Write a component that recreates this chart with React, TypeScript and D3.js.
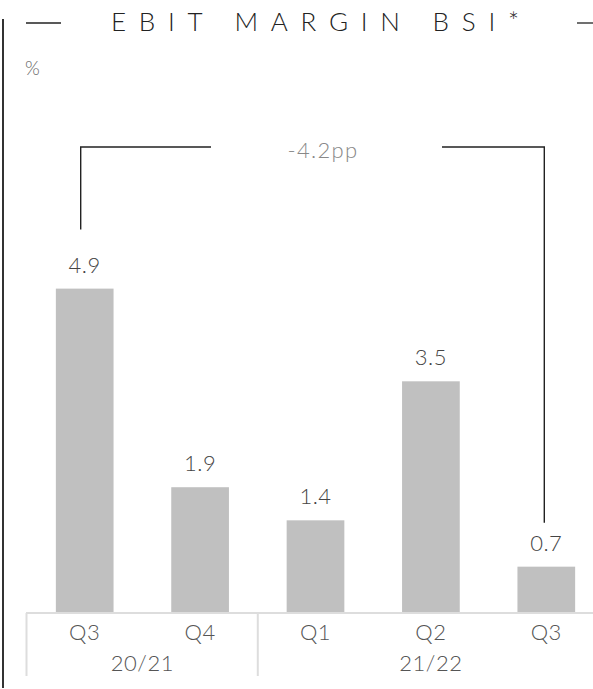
import React from "react";
import * as d3 from "d3";

const quarters = ["Q3", "Q4", "Q1", "Q2", "Q3"];
const values = [4.9, 1.9, 1.4, 3.5, 0.7];
const valueLabels = ["4.9", "1.9", "1.4", "3.5", "0.7"];
const groupLabels = ["20/21", "21/22"];
const groupSpans = [2, 3];
const title = "EBIT MARGIN BSI*";
const unitLabel = "%";
const deltaLabel = "-4.2pp";

const W = 593;
const H = 689;
const FONT = "Lato, 'Open Sans', sans-serif";

export default function App() {
  const ids = quarters.map((_, i) => String(i));
  const x = d3.scaleBand<string>().domain(ids).range([27, 604]).paddingInner(0.5).paddingOuter(0.25);
  const y = d3.scaleLinear().domain([0, 5]).range([613, 282]);
  const step = x.step();
  const bw = x.bandwidth();
  const cx = (i: number) => (x(ids[i]) as number) + bw / 2;

  const bounds: number[] = [];
  let acc = 0;
  const groupCenters: number[] = [];
  groupSpans.forEach((s) => {
    const start = acc;
    acc += s;
    groupCenters.push((cx(start) + cx(acc - 1)) / 2);
    bounds.push(cx(acc - 1) + step / 2);
  });
  const sepXs = [cx(0) - step / 2 - 0.5, bounds[0]];

  const bracketY = 147;
  const lx = cx(0) - 4;
  const rx = cx(values.length - 1) - 2;
  const midX = 326;

  return (
    <svg width={W} height={H} style={{ position: "absolute", left: 0, top: 0, display: "block" }}>
      <rect x={0} y={0} width={W} height={H} fill="#fff" />
      <line x1={3} x2={3} y1={19} y2={688} stroke="#333" strokeWidth={2} />
      <line x1={26} x2={61} y1={23} y2={23} stroke="#222" strokeWidth={1.3} />
      <line x1={577} x2={593} y1={23} y2={23} stroke="#222" strokeWidth={1.3} />
      <text x={111} y={31} fontFamily={FONT} fontWeight={300} fontSize={26} fill="#222"
        textLength={408} lengthAdjust="spacing">{title}</text>
      <text x={25} y={75} fontFamily={FONT} fontWeight={300} fontSize={19} fill="#666">{unitLabel}</text>

      <path d={`M${lx},${y(values[0]) - 59}V${bracketY}H${midX - 115}`} fill="none" stroke="#222" strokeWidth={1.4} />
      <path d={`M${midX + 116},${bracketY}H${rx}V${y(values[values.length - 1]) - 44}`} fill="none" stroke="#222" strokeWidth={1.4} />
      <text x={midX - 3} y={158} textAnchor="middle" fontFamily={FONT} fontWeight={300} fontSize={22} letterSpacing={1.3} fill="#888">{deltaLabel}</text>

      {values.map((v, i) => (
        <g key={i}>
          <rect x={x(ids[i])} y={y(v)} width={bw} height={y(0) - y(v)} fill="#c0c0c0" />
          <text x={cx(i)} y={y(v) - 16} textAnchor="middle" fontFamily={FONT} fontWeight={300} fontSize={22} letterSpacing={0.5} fill="#444">{valueLabels[i]}</text>
        </g>
      ))}

      <line x1={26} x2={W} y1={y(0)} y2={y(0)} stroke="#ddd" strokeWidth={2} />
      {sepXs.map((sx, i) => (
        <line key={i} x1={sx} x2={sx} y1={y(0)} y2={676} stroke="#ddd" strokeWidth={2} />
      ))}
      {quarters.map((q, i) => (
        <text key={i} x={cx(i)} y={640} textAnchor="middle" fontFamily={FONT} fontWeight={300} fontSize={22} letterSpacing={0.5} fill="#555">{q}</text>
      ))}
      {groupLabels.map((g, i) => (
        <text key={i} x={groupCenters[i]} y={671} textAnchor="middle" fontFamily={FONT} fontWeight={300} fontSize={22} letterSpacing={0.5} fill="#555">{g}</text>
      ))}
    </svg>
  );
}
